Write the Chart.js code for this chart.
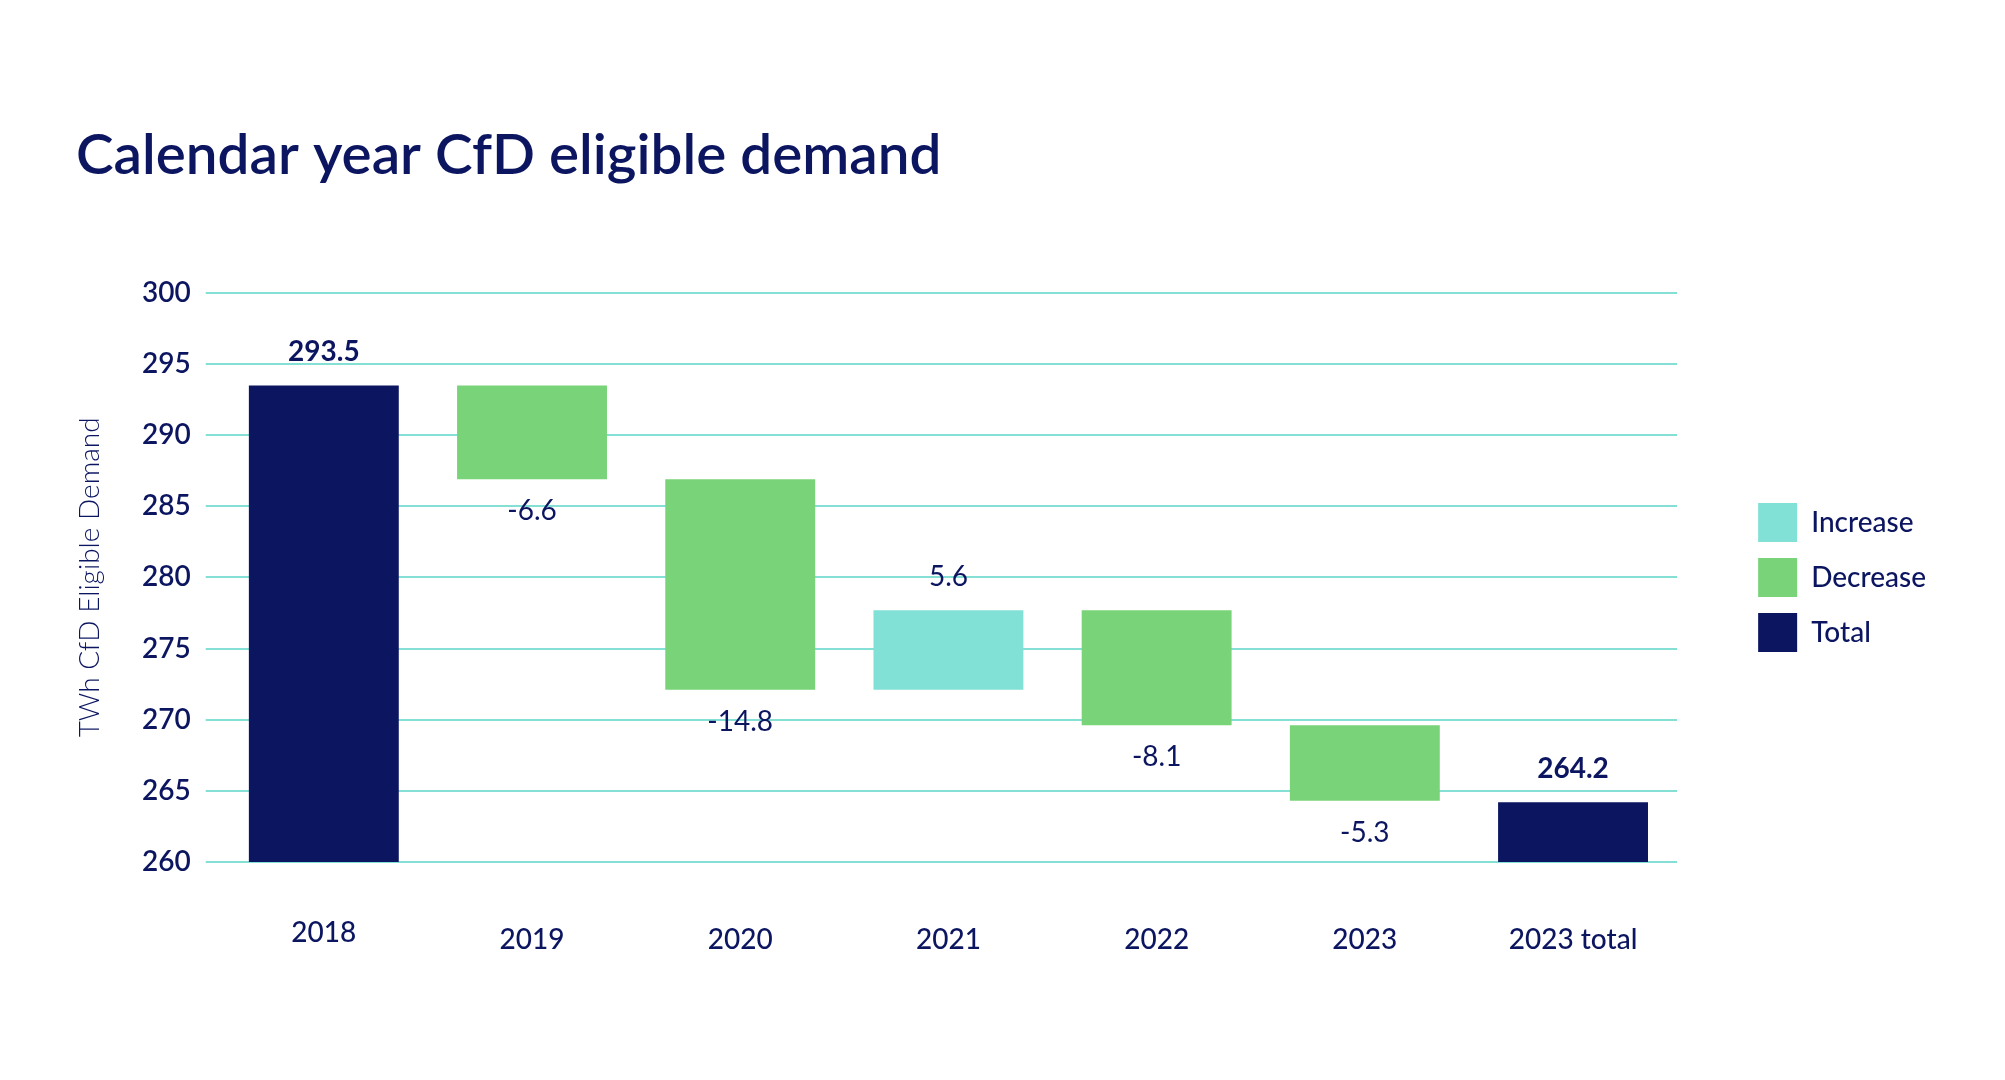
<!DOCTYPE html>
<html>
<head>
<meta charset="utf-8">
<script src="https://cdn.jsdelivr.net/npm/chart.js@4.4.1/dist/chart.umd.min.js"></script>
<style>
html,body{margin:0;padding:0;background:#ffffff;}
#wrap{width:2005px;height:1080px;}
</style>
</head>
<body>
<div id="wrap"><canvas id="c" width="2005" height="1080"></canvas></div>
<script>
// ---- data ----
const categories = ['2018', '2019', '2020', '2021', '2022', '2023', '2023 total'];
const changes = [293.5, -6.6, -14.8, 5.6, -8.1, -5.3, 264.2];
const kinds = ['total', 'decrease', 'decrease', 'increase', 'decrease', 'decrease', 'total'];
const seriesKeys = ['increase', 'decrease', 'total'];
const seriesNames = ['Increase', 'Decrease', 'Total'];
const yTicks = [260, 265, 270, 275, 280, 285, 290, 295, 300];

// ---- styles ----
const NAVY = '#0b1560';
const seriesColors = { increase: '#82e1d6', decrease: '#79d379', total: '#0b1560' };
const GRID = '#84e0d5';
const FONT = 'Lato';

// build waterfall datasets from the change list
let level = 0;
const spans = categories.map((c, i) => {
  if (kinds[i] === 'total') { level = changes[i]; return changes[i]; }
  const start = level;
  level = level + changes[i];
  return [start, level];
});
const datasets = seriesKeys.map((k, si) => ({
  label: seriesNames[si],
  data: spans.map((v, i) => kinds[i] === k ? v : null),
  backgroundColor: seriesColors[k],
  borderWidth: 0,
  grouped: false,
  barPercentage: 0.72,
  categoryPercentage: 1.0
}));

const valueLabels = {
  id: 'valueLabels',
  afterDatasetsDraw(chart) {
    const ctx = chart.ctx;
    chart.data.datasets.forEach((ds, di) => {
      const meta = chart.getDatasetMeta(di);
      meta.data.forEach((el, i) => {
        if (ds.data[i] == null) return;
        const kind = kinds[i];
        const top = Math.min(el.y, el.base);
        const bottom = Math.max(el.y, el.base);
        ctx.save();
        ctx.font = (kind === 'total' ? '700 ' : '400 ') + '28px ' + FONT;
        ctx.fillStyle = NAVY;
        ctx.textAlign = 'center';
        ctx.textBaseline = 'middle';
        const y = kind === 'decrease' ? bottom + 32 : top - 33;
        ctx.fillText(changes[i].toFixed(1), el.x, y);
        ctx.restore();
      });
    });
  }
};

const legendShift = {
  id: 'legendShift',
  afterLayout(chart) {
    const lg = chart.legend;
    if (lg) { lg.left += 65; lg.right += 65; lg.top += 487; lg.bottom += 487; }
  }
};

new Chart(document.getElementById('c'), {
  type: 'bar',
  data: { labels: categories, datasets: datasets },
  plugins: [valueLabels, legendShift],
  options: {
    responsive: false,
    animation: false,
    devicePixelRatio: 1,
    layout: { padding: { left: 76, right: 134, top: 0, bottom: 61.5 } },
    plugins: {
      title: {
        display: true,
        text: 'Calendar year CfD eligible demand',
        align: 'start',
        color: NAVY,
        font: { family: FONT, size: 56.6, weight: '600', lineHeight: 1.2 },
        padding: { top: 122, bottom: 103 }
      },
      legend: {
        display: true,
        position: 'right',
        align: 'start',
        labels: {
          boxWidth: 39,
          boxHeight: 39,
          padding: 16,
          color: NAVY,
          font: { family: FONT, size: 28, weight: '500' }
        }
      },
      tooltip: { enabled: false }
    },
    scales: {
      x: {
        grid: { display: false, drawTicks: false },
        border: { display: false },
        ticks: {
          color: NAVY,
          padding: 61.5,
          maxRotation: 0,
          autoSkip: false,
          font: (ctx) => ({ family: FONT, size: 28, weight: '500', lineHeight: ctx.index === 0 ? '18.4px' : 1.2 })
        }
      },
      y: {
        min: 260,
        max: 300,
        afterBuildTicks: (scale) => { scale.ticks = yTicks.map(v => ({ value: v })); },
        grid: { color: GRID, lineWidth: 2, drawTicks: true, tickLength: 14 },
        border: { display: false },
        ticks: {
          color: NAVY,
          padding: 15,
          font: { family: FONT, size: 28, weight: '600' }
        },
        title: {
          display: true,
          text: 'TWh CfD Eligible Demand',
          color: NAVY,
          font: { family: FONT, size: 28, weight: '300', lineHeight: 1 },
          padding: { top: 0, bottom: 23 }
        }
      }
    }
  }
});
</script>
</body>
</html>
